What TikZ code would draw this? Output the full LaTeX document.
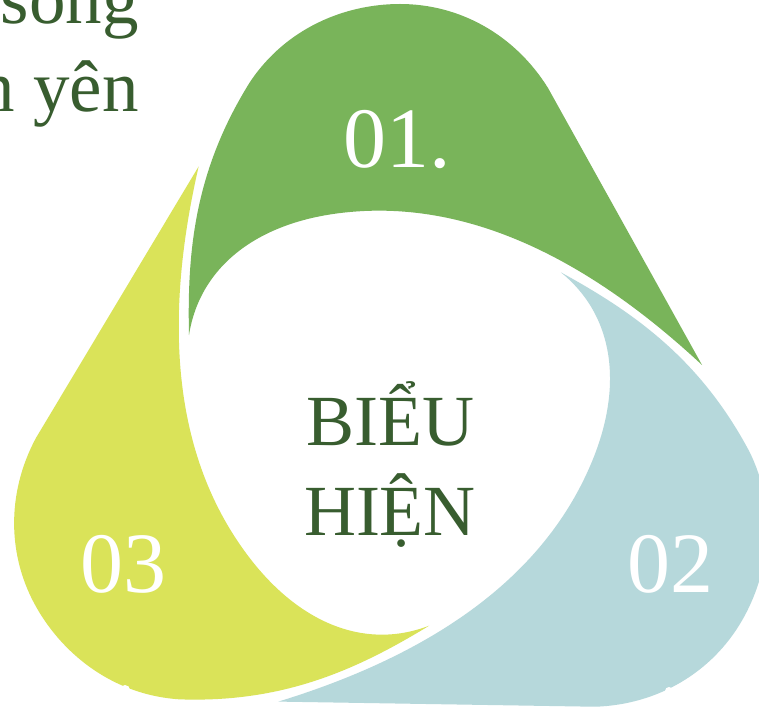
\documentclass[tikz,border=0pt]{standalone}
\usepackage{fontspec}
\setmainfont{Liberation Serif}
\definecolor{bladegreen}{HTML}{79B45A}
\definecolor{bladeblue}{HTML}{B6D8DB}
\definecolor{bladeyellow}{HTML}{DAE359}
\definecolor{darkgreen}{HTML}{385D2F}
\tikzset{
  numtext/.style={inner sep=0pt, text=white, font=\fontsize{86}{100}\selectfont, anchor=base},
  centertext/.style={inner sep=0pt, text=darkgreen, font=\fontsize{72}{86}\selectfont, anchor=base},
  cornertext/.style={inner sep=0pt, text=darkgreen, font=\fontsize{73}{88}\selectfont, anchor=base east},
  notch/.style={fill=white, draw=none}
}
\begin{document}
\begin{tikzpicture}[x=1pt,y=-1pt]
\clip (0,0) rectangle (759,708);
\fill[white] (0,0) rectangle (759,708);
\coordinate (c) at (393,411);
\foreach \ang/\col in {0/bladegreen, -120/bladeblue, 120/bladeyellow}{
  \fill[\col, rotate around={\ang:(c)}]
    (189,335) .. controls (187,250) and (195,170) .. (250,82)
    .. controls (286,28) and (345,4) .. (400,4)
    .. controls (460,4) and (515,35) .. (548,88)
    -- (702,365)
    .. controls (600,270) and (480,200) .. (350,212)
    .. controls (260,220) and (200,265) .. (189,335) -- cycle;
}
\fill[notch] (125,690) circle (5);
\fill[notch] (669,691) circle (4);
\node[cornertext] (t1) at (139,24) {sống};
\node[cornertext] (t2) at (139,112) {n yên};
\node[numtext] (n1) at (397,168) {01.};
\node[numtext] (n2) at (670,592) {02};
\node[numtext] (n3) at (123,592) {03};
\node[centertext] (b1) at (390,445) {BIỂU};
\node[centertext] (b2) at (390,535) {HIỆN};
\end{tikzpicture}
\end{document}
